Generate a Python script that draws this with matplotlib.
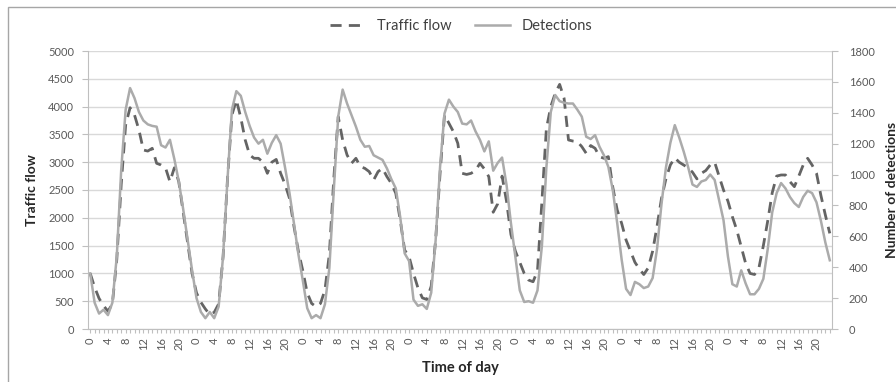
import matplotlib.pyplot as plt
from matplotlib.lines import Line2D
from matplotlib.patches import Rectangle

plt.rcParams["font.family"] = ["Lato", "DejaVu Sans"]

# hourly traffic flow, one list per day
flow_day1 = [1000, 750, 550, 420, 320, 450, 1250, 2600, 3670, 3980, 3850, 3580, 3220, 3200, 3250, 2980, 2950, 2900, 2650, 2900, 2650, 2100, 1550, 1000]
flow_day2 = [650, 480, 360, 260, 300, 450, 1300, 2700, 3850, 4120, 3800, 3400, 3130, 3070, 3070, 3000, 2800, 3000, 3050, 2800, 2600, 2350, 1850, 1400]
flow_day3 = [1050, 650, 460, 400, 460, 700, 1350, 2700, 3820, 3400, 3130, 2980, 3070, 2920, 2890, 2830, 2680, 2830, 2890, 2740, 2620, 2440, 1960, 1420]
flow_day4 = [1300, 1000, 740, 560, 530, 770, 1600, 2800, 3850, 3700, 3550, 3340, 2800, 2780, 2800, 2850, 2980, 2880, 2740, 2100, 2250, 2750, 2300, 1700]
flow_day5 = [1400, 1200, 1000, 880, 850, 1050, 2300, 3600, 4000, 4240, 4400, 4150, 3400, 3380, 3370, 3280, 3160, 3300, 3250, 3100, 3070, 3100, 2550, 2140]
flow_day6 = [1900, 1600, 1400, 1200, 1080, 980, 1100, 1400, 1850, 2350, 2700, 2950, 3080, 3000, 2950, 2900, 2820, 2700, 2800, 2850, 2950, 3000, 2750, 2500]
flow_day7 = [2300, 2020, 1780, 1480, 1180, 1000, 980, 1100, 1500, 1950, 2450, 2750, 2770, 2770, 2650, 2560, 2750, 2950, 3070, 2950, 2800, 2400, 2050, 1720]

# hourly number of detections, one list per day
det_day1 = [360, 170, 100, 125, 90, 170, 470, 1030, 1420, 1560, 1495, 1405, 1350, 1325, 1315, 1310, 1190, 1175, 1225, 1100, 955, 775, 575, 380]
det_day2 = [200, 110, 70, 110, 70, 145, 470, 970, 1420, 1540, 1510, 1405, 1315, 1240, 1200, 1225, 1135, 1205, 1255, 1200, 1045, 880, 685, 485]
det_day3 = [315, 135, 70, 90, 70, 160, 395, 900, 1375, 1550, 1460, 1385, 1310, 1225, 1180, 1185, 1125, 1110, 1095, 1040, 970, 910, 725, 490]
det_day4 = [440, 190, 150, 160, 130, 235, 575, 1050, 1395, 1485, 1440, 1405, 1330, 1325, 1350, 1280, 1225, 1150, 1215, 1025, 1075, 1110, 935, 685]
det_day5 = [470, 250, 175, 180, 170, 250, 540, 1045, 1405, 1515, 1475, 1465, 1460, 1460, 1420, 1375, 1245, 1230, 1255, 1180, 1125, 1050, 900, 685]
det_day6 = [450, 260, 220, 305, 290, 265, 275, 330, 520, 810, 1045, 1205, 1320, 1240, 1150, 1050, 935, 920, 955, 965, 1000, 965, 835, 705]
det_day7 = [470, 290, 275, 380, 295, 225, 225, 260, 325, 520, 755, 880, 945, 910, 855, 815, 790, 855, 895, 880, 820, 700, 560, 445]

traffic_flow = flow_day1 + flow_day2 + flow_day3 + flow_day4 + flow_day5 + flow_day6 + flow_day7
detections = det_day1 + det_day2 + det_day3 + det_day4 + det_day5 + det_day6 + det_day7
hours = list(range(len(traffic_flow)))
hour_labels = [str(h % 24) if h % 4 == 0 else "" for h in hours]

AXIS_GRAY = "#bfbfbf"
TICK_TXT = "#595959"
TITLE_TXT = "#262626"
FLOW_COL = "#646464"
DET_COL = "#ababab"

fig = plt.figure(figsize=(8.96, 3.82), dpi=100)
fig.patches.append(Rectangle((8 / 896, -0.1), 1.2, 1 - 7 / 382 + 0.1, transform=fig.transFigure,
                             fill=False, edgecolor="#a6a6a6", linewidth=1))

ax = fig.add_axes([88 / 896, 1 - 329 / 382, 744 / 896, 278 / 382])
ax2 = ax.twinx()

ax.plot(hours, traffic_flow, color=FLOW_COL, linewidth=2, dashes=(4, 2.6), zorder=3)
ax2.plot(hours, detections, color=DET_COL, linewidth=1.8, zorder=3)

ax.set_xlim(-0.5, len(hours) - 0.5)
ax.set_ylim(0, 5000)
ax2.set_ylim(0, 1800)
ax.set_yticks(range(0, 5001, 500))
ax2.set_yticks(range(0, 1801, 200))
ax.set_xticks(hours)
ax.set_xticklabels(hour_labels, rotation=90)

ax.grid(axis="y", color="#d9d9d9", linewidth=1)
ax.set_axisbelow(True)

for a in (ax, ax2):
    for s in a.spines.values():
        s.set_color(AXIS_GRAY)
    a.spines["top"].set_visible(False)
ax.spines["right"].set_visible(False)
ax2.spines["left"].set_visible(False)
ax2.spines["bottom"].set_visible(False)

ax.tick_params(axis="y", length=4, color=AXIS_GRAY, labelsize=8, labelcolor=TICK_TXT, pad=6)
ax2.tick_params(axis="y", length=4, color=AXIS_GRAY, labelsize=8, labelcolor=TICK_TXT, pad=8)
ax.tick_params(axis="x", length=3, color=AXIS_GRAY, labelsize=8, labelcolor=TICK_TXT, pad=3)

ax.set_ylabel("Traffic flow", fontsize=10, fontweight="bold", color=TITLE_TXT)
ax.yaxis.set_label_coords(-0.067, 0.5)
ax2.set_ylabel("Number of detections", fontsize=10, fontweight="bold", color=TITLE_TXT)
ax2.yaxis.set_label_coords(1.072, 0.5)
ax.set_xlabel("Time of day", fontsize=10.5, fontweight="bold", color=TITLE_TXT)
ax.xaxis.set_label_coords(0.5, -0.115)

handles = [Line2D([], [], color=FLOW_COL, linewidth=2, dashes=(4, 2.6)),
           Line2D([], [], color=DET_COL, linewidth=1.8)]
fig.legend(handles, ["Traffic flow", "Detections"], loc="center", bbox_to_anchor=(0.515, 0.932),
           ncol=2, frameon=False, fontsize=10.5, handlelength=2.4, handletextpad=0.8,
           columnspacing=1.6, labelcolor="#404040")

fig.savefig("out.png", dpi=100)
